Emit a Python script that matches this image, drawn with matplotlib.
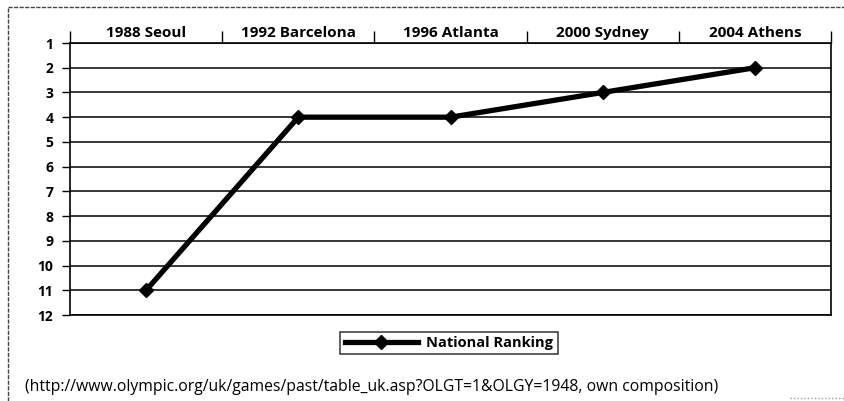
import matplotlib.pyplot as plt
from matplotlib.lines import Line2D

# data
games = ["1988 Seoul", "1992 Barcelona", "1996 Atlanta", "2000 Sydney", "2004 Athens"]
ranking = [11, 4, 4, 3, 2]
rank_ticks = list(range(1, 13))
source = "(http://www.olympic.org/uk/games/past/table_uk.asp?OLGT=1&OLGY=1948, own composition)"

plt.rcParams['font.family'] = ['Open Sans', 'DejaVu Sans']

W, H = 844, 401
fig = plt.figure(figsize=(W / 100, H / 100), dpi=100)
ax = fig.add_axes([70 / W, 1 - 315 / H, 761 / W, 272 / H])

x = list(range(len(games)))
ax.plot(x, ranking, color="black", lw=3.8, marker="D", markersize=7.5,
        label="National Ranking", solid_joinstyle="miter")

# reversed ranking axis, categories on top
ax.set_ylim(12, 1)
ax.set_xlim(-0.5, len(games) - 0.5)
ax.set_yticks(rank_ticks)
ax.set_yticklabels([str(r) for r in rank_ticks], fontweight="bold", fontsize=10)
ax.yaxis.grid(True, color="black", lw=1.1)
ax.tick_params(axis="y", direction="out", length=6, width=1, pad=6)

ax.xaxis.tick_top()
ax.set_xticks(x)
ax.set_xticklabels(games, fontweight="bold", fontsize=11)
ax.set_xticks([i - 0.5 for i in range(len(games) + 1)], minor=True)
ax.tick_params(axis="x", which="major", length=0, pad=2)
ax.tick_params(axis="x", which="minor", direction="out", length=8.5, width=1)

for spine in ax.spines.values():
    spine.set_linewidth(1.2)

leg = fig.legend(loc="center", bbox_to_anchor=(449 / W, 1 - 343 / H),
                 prop={"weight": "bold", "size": 10.5}, fancybox=False,
                 edgecolor="black", handlelength=5, handletextpad=0.6,
                 borderpad=0.3)
leg.get_frame().set_linewidth(1.1)

fig.text(25 / W, 1 - 387 / H, source, fontsize=11.3, va="center", ha="left")

# scanned outer frame: top and left edges only show clearly
frame = dict(color="#444444", lw=1, ls=(0, (3, 1)), transform=fig.transFigure)
fig.lines.append(Line2D([8 / W, 1], [1 - 7 / H, 1 - 7 / H], **frame))
fig.lines.append(Line2D([8 / W, 8 / W], [0, 1 - 7 / H], **frame))
fig.lines.append(Line2D([790 / W, 1], [1 - 398 / H, 1 - 398 / H],
                        color="#999999", lw=1, ls=(0, (1, 1.5)),
                        transform=fig.transFigure))

fig.savefig("out.png", dpi=100)
